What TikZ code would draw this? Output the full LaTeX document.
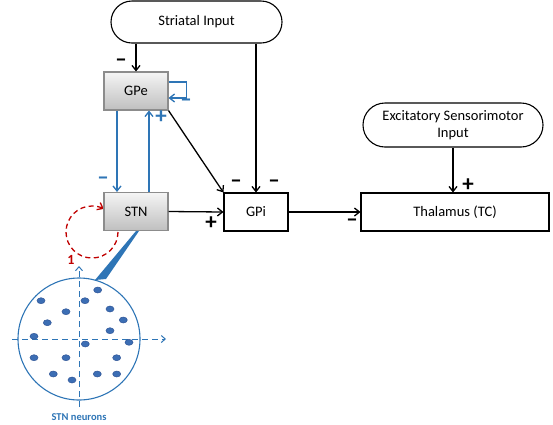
\documentclass[tikz,border=0pt]{standalone}
\usepackage{fontspec}
\setmainfont{Carlito}
\usetikzlibrary{arrows.meta,shapes.geometric}
\definecolor{bl}{HTML}{2E75B6}
\definecolor{dotf}{HTML}{3C6EB4}
\definecolor{dotd}{HTML}{2F5597}
\definecolor{rd}{HTML}{C00000}
\begin{document}
\begin{tikzpicture}[x=1pt,y=-1pt,
  every node/.style={font=\fontsize{14.5}{17}\selectfont},
  wbox/.style={draw=black, line width=1.1pt, fill=white, minimum height=38pt, inner sep=0pt},
  gbox/.style={draw=black!45, line width=1.1pt, top color=black!4, bottom color=black!25, minimum width=64pt, minimum height=38pt, inner sep=0pt},
  pill/.style={draw=black, line width=1.1pt, fill=white, inner sep=0pt, align=center},
  conn/.style={line width=1.3pt, -{Straight Barb[length=5pt,width=8pt]}},
  bconn/.style={conn, draw=bl},
  sign/.style={font=\fontsize{23}{23}\selectfont\bfseries, inner sep=0pt},
  dotn/.style={ellipse, fill=dotf, draw=dotd, line width=0.5pt, minimum width=8pt, minimum height=6pt, inner sep=0pt}
]
\useasboundingbox (0,0) rectangle (553,424);

% wedge and circle
\fill[bl] (136,231) -- (139,231) -- (106,279) -- (95,280) -- cycle;
\draw[bl, line width=1.1pt] (79,339) circle[radius=61];
\draw[bl, line width=1pt, dash pattern=on 6pt off 4pt, -{Straight Barb[length=4pt,width=7pt]}] (12,339) -- (166,339);
\draw[bl, line width=1pt, dash pattern=on 6pt off 4pt, -{Straight Barb[length=4pt,width=7pt]}] (79,407) -- (79,266);
\foreach \p in {(97.7,290),(41,300.7),(85,300.7),(66,311.7),(110,309),(123.3,320),(47.3,322.7),(110,330.7),(34,336.3),(129,342.3),(85.3,344),(34,357.7),(66,357.7),(116.7,357.7),(53.3,374),(97.3,374),(116.7,374),(72,380)}
  \node[dotn] at \p {};
\node[text=bl, font=\fontsize{10.5}{12}\selectfont\bfseries] (lab) at (79,417) {STN neurons};

% red dashed loop
\draw[rd, line width=1.3pt, dash pattern=on 5pt off 3.5pt, -{Straight Barb[length=5pt,width=8pt]}] (118,232) arc[start angle=0, end angle=297, radius=26];
\node[text=rd, font=\fontsize{14}{14}\selectfont\bfseries] (one) at (71,260) {1};

% nodes
\node[pill, minimum width=171pt, minimum height=42pt, rounded corners=21pt] (stri) at (196.5,22) {Striatal Input};
\node[pill, minimum width=180pt, minimum height=44pt, rounded corners=22pt] (exc) at (453,125) {Excitatory Sensorimotor\\Input};
\node[gbox] (gpe) at (136,91) {GPe};
\node[gbox] (stn) at (136,211.5) {STN};
\node[wbox, minimum width=64pt] (gpi) at (256,212) {GPi};
\node[wbox, minimum width=188pt] (thal) at (455,212) {Thalamus (TC)};

% connectors
\draw[conn] (gpe.north |- stri.south) -- (gpe.north);
\draw[conn] (gpi.north |- stri.south) -- (gpi.north);
\draw[conn] (gpe.south east) -- (gpi.north west);
\draw[conn] (stn.east) -- (gpi.west);
\draw[conn] (gpi.east) -- (thal.west);
\draw[conn] (exc.south) -- (exc.south |- thal.north);
\draw[bconn] ([xshift=-19pt]gpe.south) -- ([xshift=-19pt]stn.north);
\draw[bconn] ([xshift=13pt]stn.north) -- ([xshift=13pt]gpe.south);
\draw[bconn] ([yshift=9pt]gpe.east) -- ++(18,0) -- ++(0,16) -- ([yshift=-7pt]gpe.east);

% signs
\node[sign] (s1) at (121,63) {–};
\node[sign, text=bl] (s2) at (186,103) {–};
\node[sign, text=bl] (s3) at (161,117) {+};
\node[sign, text=bl] (s4) at (103,181) {–};
\node[sign] (s5) at (236,184) {–};
\node[sign] (s6) at (274,184) {–};
\node[sign] (s7) at (211,223) {+};
\node[sign] (s8) at (352,223) {–};
\node[sign] (s9) at (468,185) {+};
\end{tikzpicture}
\end{document}
